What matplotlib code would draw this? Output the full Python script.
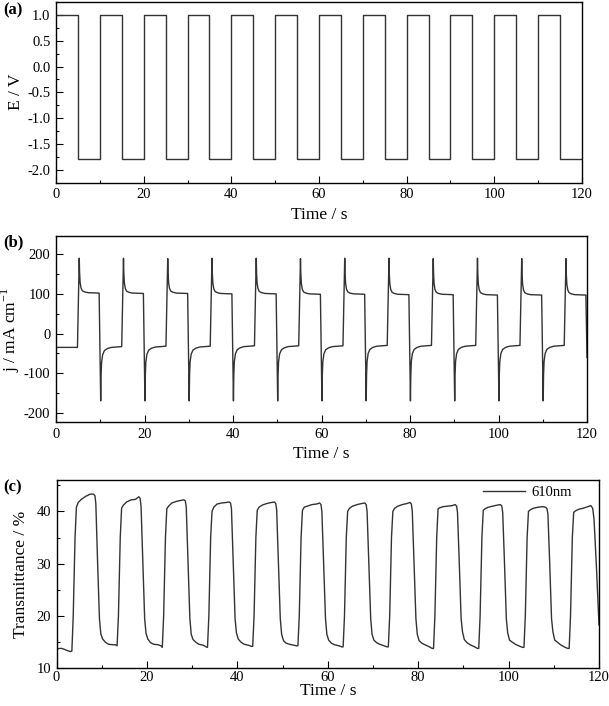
import matplotlib
matplotlib.use("Agg")
import matplotlib.pyplot as plt
from matplotlib.ticker import MultipleLocator

plt.rcParams['font.family'] = ['Liberation Serif', 'DejaVu Serif']
plt.rcParams['mathtext.fontset'] = 'custom'
plt.rcParams['mathtext.rm'] = 'Liberation Serif'
plt.rcParams['axes.unicode_minus'] = False

# ---------------- data ----------------
# (a) potential steps
E_times = [0, 5, 10, 15, 20, 25, 30, 35, 40, 45, 50, 55, 60, 65, 70, 75, 80,
           85, 90, 95, 100, 105, 110, 115, 120]
E_values = [1.0, -1.8, 1.0, -1.8, 1.0, -1.8, 1.0, -1.8, 1.0, -1.8, 1.0, -1.8,
            1.0, -1.8, 1.0, -1.8, 1.0, -1.8, 1.0, -1.8, 1.0, -1.8, 1.0, -1.8, -1.8]

# (b) current density, per cycle
j_low = [-35, -33, -32, -32, -31, -31, -31, -30, -30, -30, -30, -30]
j_peak = [190, 190, 189, 190, 190, 189, 190, 190, 189, 190, 189, 189]
j_high = [102, 101, 101, 100, 100, 99, 99, 98, 98, 97, 97, 97]
j_neg_peak = [-170, -170, -170, -170, -170, -170, -170, -170, -170, -170, -170]
j_pos_decay_dt = [0.08, 0.2, 0.4, 0.7, 1.2, 2.0]
j_pos_decay_excess = [52, 27, 13, 6, 3, 1]
j_neg_decay_dt = [0.08, 0.2, 0.45, 0.85, 1.5, 2.4]
j_neg_decay_excess = [-75, -40, -20, -10, -5, -2]
j_end_value = -60

# (c) transmittance at 610 nm
T_start_t = [0.0, 0.6, 1.2, 1.8, 2.4, 3.0]
T_start = [13.6, 13.8, 13.8, 13.6, 13.4, 13.2]
T_offsets = [3.4, 3.7, 4.1, 4.4, 4.8, 5.5, 6.5, 7.5, 8.2, 8.5, 8.7, 9.1, 9.5,
             9.8, 10.2, 10.8, 11.5, 12.5, 13.1]
T_cycles = [
    [13.3, 20, 35, 40.8, 41.7, 42.3, 42.9, 43.3, 43.3, 43.0, 41.5, 30, 19.5, 16.6, 15.6, 15.0, 14.6, 14.5, 14.5],
    [14.3, 20, 35, 40.6, 41.2, 41.8, 42.2, 42.3, 42.8, 42.5, 41.0, 30, 19.5, 16.7, 15.6, 14.9, 14.6, 14.5, 14.3],
    [14.0, 20, 35, 40.5, 41.0, 41.6, 41.9, 42.1, 42.2, 42.0, 40.8, 30, 19.5, 16.5, 15.5, 15.0, 14.6, 14.4, 14.1],
    [14.0, 20, 35, 40.0, 40.8, 41.4, 41.6, 41.7, 41.8, 41.6, 40.5, 30, 19.5, 16.8, 15.6, 15.0, 14.6, 14.4, 14.2],
    [14.2, 20, 35, 40.2, 40.8, 41.2, 41.5, 41.7, 41.8, 41.5, 40.3, 30, 19.5, 16.5, 15.3, 14.8, 14.6, 14.4, 14.3],
    [14.3, 20, 35, 40.2, 40.8, 41.0, 41.3, 41.4, 41.6, 41.3, 40.0, 30, 19.5, 16.5, 15.4, 14.8, 14.5, 14.3, 14.1],
    [14.1, 20, 35, 40.0, 40.6, 41.0, 41.3, 41.5, 41.6, 41.3, 40.0, 30, 19.5, 16.5, 15.4, 14.9, 14.6, 14.3, 14.1],
    [14.1, 20, 35, 40.0, 40.6, 41.0, 41.3, 41.5, 41.7, 41.4, 40.0, 30, 19.5, 16.5, 15.3, 14.8, 14.5, 14.1, 13.8],
    [13.8, 20, 35, 40.5, 40.7, 40.9, 41.0, 41.1, 41.3, 41.0, 39.8, 30, 19.5, 17.0, 15.5, 14.9, 14.5, 14.1, 13.8],
    [13.8, 20, 35, 40.2, 40.5, 40.8, 41.0, 41.2, 41.3, 41.0, 39.8, 30, 19.5, 16.8, 15.4, 15.0, 14.6, 14.2, 14.0],
    [14.0, 20, 35, 40.0, 40.3, 40.6, 40.8, 40.9, 40.8, 40.5, 39.5, 30, 19.5, 17.0, 15.4, 15.0, 14.5, 14.0, 13.8],
]
T_last_t = [113.4, 113.7, 114.1, 114.4, 114.8, 115.5, 116.5, 117.5, 118.2, 118.6, 118.9, 119.4, 120.0]
T_last = [13.8, 20, 35, 39.8, 40.1, 40.4, 40.6, 40.9, 41.1, 40.6, 38.5, 30, 18.3]

# ---------------- build series ----------------
j_t, j_v = [0.0], [j_low[0]]
for k in range(12):
    b = 10 * k
    j_t += [b + 4.85, b + 5.25]
    j_v += [j_low[k], j_peak[k]]
    for dt, ex in zip(j_pos_decay_dt, j_pos_decay_excess):
        j_t.append(b + 5.25 + dt)
        j_v.append(j_high[k] + ex)
    j_t.append(b + 9.75)
    j_v.append(j_high[k])
    if k < 11:
        j_t.append(b + 10.1)
        j_v.append(j_neg_peak[k])
        for dt, ex in zip(j_neg_decay_dt, j_neg_decay_excess):
            j_t.append(b + 10.1 + dt)
            j_v.append(j_low[k + 1] + ex)
    else:
        j_t.append(120.0)
        j_v.append(j_end_value)

T_t = list(T_start_t)
T_v = list(T_start)
for k, row in enumerate(T_cycles):
    T_t += [10 * k + o for o in T_offsets]
    T_v += row
T_t += T_last_t
T_v += T_last

# ---------------- figure ----------------
W, H = 609, 706
fig = plt.figure(figsize=(W / 100, H / 100), dpi=100)

def box(l, r, t, b):
    return [l / W, 1 - b / H, (r - l) / W, (b - t) / H]

ax_a = fig.add_axes(box(56, 582, 1.5, 182.7))
ax_b = fig.add_axes(box(56, 587, 236, 422.3))
ax_c = fig.add_axes(box(56.5, 599, 480, 668.3))

lc = '#333333'
lw = 1.0
ax_a.plot(E_times, E_values, drawstyle='steps-post', color=lc, lw=lw)
ax_b.plot(j_t, j_v, color=lc, lw=lw)
ax_c.plot(T_t, T_v, color=lc, lw=lw, label='610nm')

tick_fs = 10.5
lab_fs = 12.5
for ax, lp in ((ax_a, 4), (ax_b, 4), (ax_c, -1)):
    ax.set_xlim(0, 120)
    ax.xaxis.set_major_locator(MultipleLocator(20))
    ax.xaxis.set_minor_locator(MultipleLocator(10))
    ax.tick_params(which='both', direction='in', top=False, right=False,
                   labelsize=tick_fs, width=0.8)
    ax.tick_params(which='major', length=5, pad=4)
    ax.tick_params(which='minor', length=2.5)
    ax.set_xlabel('Time / s', fontsize=lab_fs, labelpad=lp)
    for s in ax.spines.values():
        s.set_linewidth(1.0)

ax_c.tick_params(axis='x', which='major', pad=2)

ax_a.set_ylim(-2.25, 1.26)
ax_a.yaxis.set_major_locator(MultipleLocator(0.5))
ax_a.yaxis.set_minor_locator(MultipleLocator(0.25))
ax_a.set_ylabel('E / V', fontsize=lab_fs)
ax_a.yaxis.set_label_coords(-0.06, 0.5)

ax_b.set_ylim(-224, 246)
ax_b.yaxis.set_major_locator(MultipleLocator(100))
ax_b.yaxis.set_minor_locator(MultipleLocator(50))
ax_b.set_ylabel(r'j / mA cm$^{\mathregular{-1}}$', fontsize=lab_fs)
ax_b.yaxis.set_label_coords(-0.064, 0.5)

ax_c.set_ylim(10, 46)
ax_c.yaxis.set_major_locator(MultipleLocator(10))
ax_c.yaxis.set_minor_locator(MultipleLocator(5))
ax_c.set_ylabel('Transmittance / %', fontsize=lab_fs)
ax_c.yaxis.set_label_coords(-0.05, 0.5)
ax_c.legend(loc='upper right', bbox_to_anchor=(0.955, 0.985), frameon=False,
            fontsize=tick_fs, handlelength=2.9, handletextpad=0.4,
            borderaxespad=0.0, borderpad=0.2)

for txt, y in (('(a)', 10), ('(b)', 242), ('(c)', 487)):
    fig.text(13 / W, 1 - y / H, txt, fontsize=12, fontweight='bold',
             ha='center', va='center')

fig.savefig('out.png', dpi=100)
